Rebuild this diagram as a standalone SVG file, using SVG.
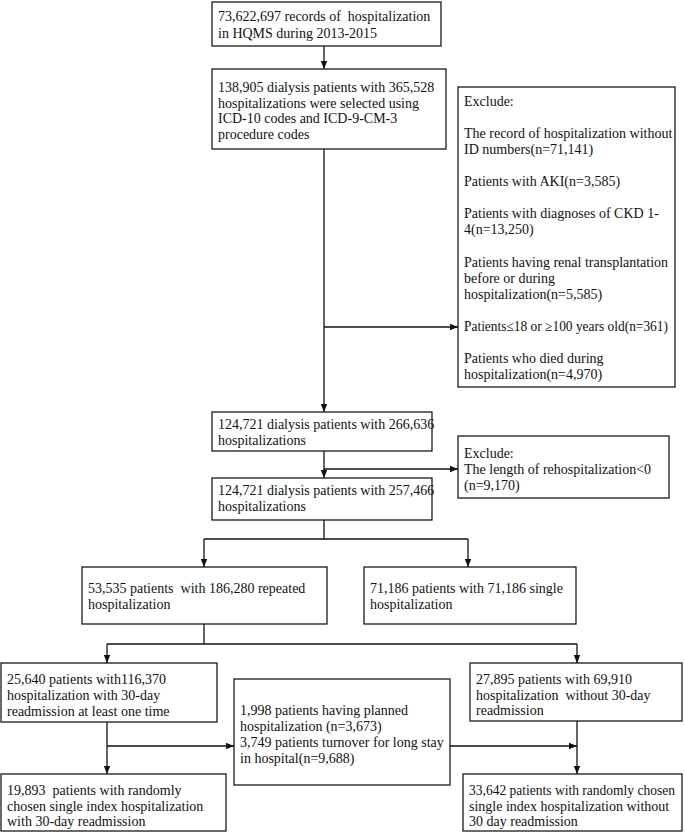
<svg xmlns="http://www.w3.org/2000/svg" width="685" height="833" viewBox="0 0 685 833">
<style>
rect.box{fill:#fff;stroke:#1a1a1a;stroke-width:1.3}
text{font-family:"Liberation Serif","Times New Roman",serif;font-size:14px;fill:#111;white-space:pre}
.c{fill:none;stroke:#111;stroke-width:1.3}
</style>
<defs>
<marker id="ah" markerUnits="userSpaceOnUse" markerWidth="8" markerHeight="8" viewBox="0 0 8 8" refX="8" refY="4" orient="auto">
<path d="M0,0.8 L8,4 L0,7.2 Z" fill="#111"/>
</marker>
</defs>
<rect width="685" height="833" fill="#fff"/>
<g id="connectors">
<line class="c" x1="324" y1="46" x2="324" y2="69" marker-end="url(#ah)"/>
<line class="c" x1="324" y1="149" x2="324" y2="412" marker-end="url(#ah)"/>
<line class="c" x1="324" y1="327" x2="458" y2="327" marker-end="url(#ah)"/>
<line class="c" x1="324" y1="451" x2="324" y2="478" marker-end="url(#ah)"/>
<line class="c" x1="324" y1="469" x2="458" y2="469" marker-end="url(#ah)"/>
<polyline class="c" points="324,520 324,539"/>
<line class="c" x1="204" y1="539" x2="468" y2="539"/>
<line class="c" x1="204" y1="539" x2="204" y2="567" marker-end="url(#ah)"/>
<line class="c" x1="468" y1="539" x2="468" y2="567" marker-end="url(#ah)"/>
<polyline class="c" points="204,624 204,644"/>
<line class="c" x1="107" y1="644" x2="577" y2="644"/>
<line class="c" x1="107" y1="644" x2="107" y2="663" marker-end="url(#ah)"/>
<line class="c" x1="577" y1="644" x2="577" y2="663" marker-end="url(#ah)"/>
<line class="c" x1="107" y1="722" x2="107" y2="774" marker-end="url(#ah)"/>
<line class="c" x1="107" y1="746" x2="234" y2="746" marker-end="url(#ah)"/>
<line class="c" x1="577" y1="721" x2="577" y2="774" marker-end="url(#ah)"/>
<line class="c" x1="450" y1="746" x2="577" y2="746" marker-end="url(#ah)"/>
</g>
<g id="n1"><rect class="box" x="212" y="2" width="229" height="44"/>
<text x="218" y="21" xml:space="preserve">73,622,697 records of  hospitalization</text>
<text x="218" y="37.5">in HQMS during 2013-2015</text></g>
<g id="n2"><rect class="box" x="212" y="69" width="234" height="80"/>
<text x="218" y="92">138,905 dialysis patients with 365,528</text>
<text x="218" y="107.5">hospitalizations were selected using</text>
<text x="218" y="123">ICD-10 codes and ICD-9-CM-3</text>
<text x="218" y="139">procedure codes</text></g>
<g id="ex1"><rect class="box" x="458" y="87" width="217" height="300"/>
<text x="464" y="105.5">Exclude:</text>
<text x="464" y="137.7">The record of hospitalization without</text>
<text x="464" y="153.8">ID numbers(n=71,141)</text>
<text x="464" y="186">Patients with AKI(n=3,585)</text>
<text x="464" y="218.2">Patients with diagnoses of CKD 1-</text>
<text x="464" y="234.3">4(n=13,250)</text>
<text x="464" y="266.5">Patients having renal transplantation</text>
<text x="464" y="282.6">before or during</text>
<text x="464" y="298.7">hospitalization(n=5,585)</text>
<text x="464" y="330.9" textLength="204" lengthAdjust="spacingAndGlyphs">Patients≤18 or ≥100 years old(n=361)</text>
<text x="464" y="363.1">Patients who died during</text>
<text x="464" y="379.2">hospitalization(n=4,970)</text></g>
<g id="n3"><rect class="box" x="212" y="412" width="220" height="39"/>
<text x="218" y="429">124,721 dialysis patients with 266,636</text>
<text x="218" y="445">hospitalizations</text></g>
<g id="ex2"><rect class="box" x="458" y="436" width="211" height="62"/>
<text x="464" y="458">Exclude:</text>
<text x="464" y="474">The length of rehospitalization&lt;0</text>
<text x="464" y="490">(n=9,170)</text></g>
<g id="n4"><rect class="box" x="212" y="478" width="220" height="42"/>
<text x="218" y="495">124,721 dialysis patients with 257,466</text>
<text x="218" y="511">hospitalizations</text></g>
<g id="n5"><rect class="box" x="82" y="567" width="245" height="57"/>
<text x="88" y="593" xml:space="preserve">53,535 patients  with 186,280 repeated</text>
<text x="88" y="609">hospitalization</text></g>
<g id="n6"><rect class="box" x="364" y="567" width="212" height="57"/>
<text x="370" y="593">71,186 patients with 71,186 single</text>
<text x="370" y="609">hospitalization</text></g>
<g id="n7"><rect class="box" x="1" y="663" width="216" height="59"/>
<text x="7" y="684">25,640 patients with116,370</text>
<text x="7" y="700">hospitalization with 30-day</text>
<text x="7" y="716">readmission at least one time</text></g>
<g id="n8"><rect class="box" x="234" y="679" width="216" height="106"/>
<text x="240" y="715">1,998 patients having planned</text>
<text x="240" y="731">hospitalization (n=3,673)</text>
<text x="240" y="747">3,749 patients turnover for long stay</text>
<text x="240" y="763">in hospital(n=9,688)</text></g>
<g id="n9"><rect class="box" x="470" y="663" width="212" height="58"/>
<text x="476" y="684">27,895 patients with 69,910</text>
<text x="476" y="700" xml:space="preserve">hospitalization  without 30-day</text>
<text x="476" y="715">readmission</text></g>
<g id="n10"><rect class="box" x="1" y="774" width="225" height="57"/>
<text x="7" y="795" xml:space="preserve">19,893  patients with randomly</text>
<text x="7" y="811">chosen single index hospitalization</text>
<text x="7" y="826">with 30-day readmission</text></g>
<g id="n11"><rect class="box" x="463" y="774" width="219" height="57"/>
<text x="469" y="795" textLength="206" lengthAdjust="spacingAndGlyphs">33,642 patients with randomly chosen</text>
<text x="469" y="811">single index hospitalization without</text>
<text x="469" y="826">30 day readmission</text></g>
</svg>
